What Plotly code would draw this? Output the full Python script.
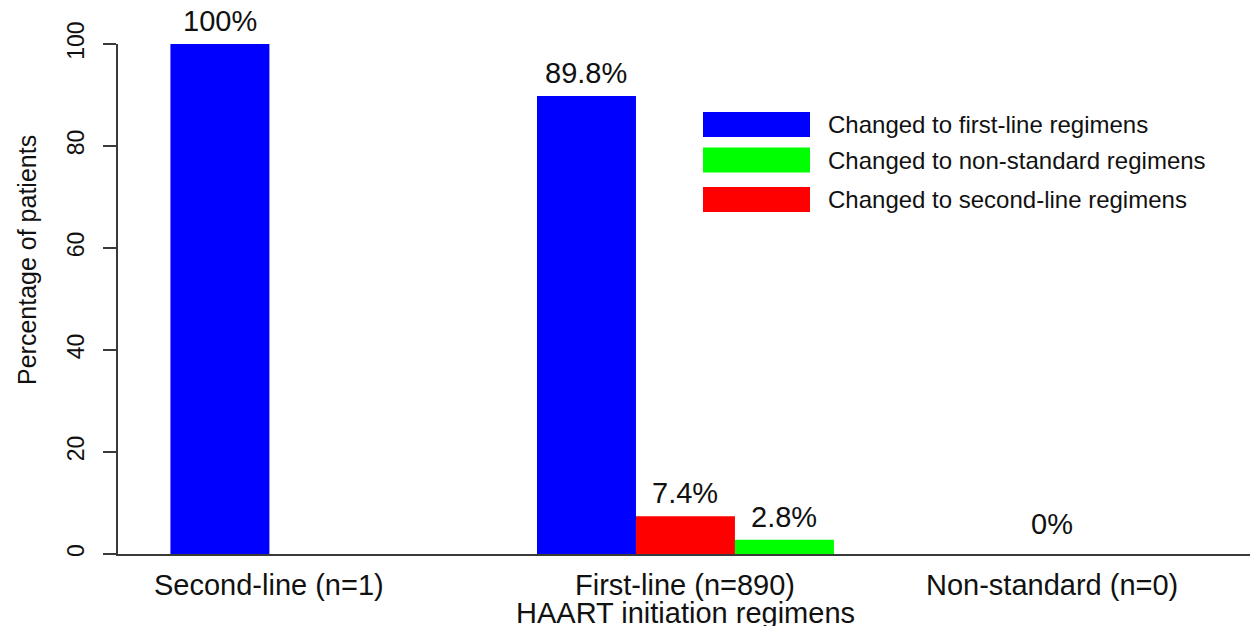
import plotly.graph_objects as go

# ---------------- data ----------------
categories = ["Second-line (n=1)", "First-line (n=890)", "Non-standard (n=0)"]
changed_first_line = [100, 89.8, 0]
changed_second_line = [0, 7.4, 0]
changed_non_standard = [0, 2.8, 0]
y_ticks = [0, 20, 40, 60, 80, 100]
x_title = "HAART initiation regimens"
y_title = "Percentage of patients"

series_names = ["Changed to first-line regimens",
                "Changed to second-line regimens",
                "Changed to non-standard regimens"]
legend_order = ["Changed to first-line regimens",
                "Changed to non-standard regimens",
                "Changed to second-line regimens"]

# ---------------- style ----------------
W, H = 1252, 626
L, R, T, B = 118, 1250, 44, 554          # plot area in px
FONT = "Arial, Liberation Sans, Helvetica, sans-serif"
AX = "#3a3a3a"
colors = {"Changed to first-line regimens": "#0000FF",
          "Changed to second-line regimens": "#FF0000",
          "Changed to non-standard regimens": "#00FF00"}
BARGAP = 0.19
BAR_W = (1 - BARGAP) / 3

series_vals = [changed_first_line, changed_second_line, changed_non_standard]

fig = go.Figure()
for name, vals in zip(series_names, series_vals):
    fig.add_trace(go.Bar(x=categories, y=vals, name=name,
                         marker=dict(color=colors[name], line=dict(width=0)),
                         showlegend=False))

annotations = []
# value labels above bars
for k, vals in enumerate(series_vals):
    for i, v in enumerate(vals):
        if v > 0:
            annotations.append(dict(x=i + (k - 1) * BAR_W, y=v, xref="x", yref="y",
                                    text=f"{v:g}%", showarrow=False,
                                    yanchor="bottom", yshift=5,
                                    font=dict(family=FONT, size=29, color="#111")))
# groups with no change at all
for i, c in enumerate(categories):
    total = sum(s[i] for s in series_vals)
    if total == 0:
        annotations.append(dict(x=i, y=0, xref="x", yref="y", text=f"{total:g}%",
                                showarrow=False, yanchor="bottom", yshift=12,
                                font=dict(family=FONT, size=29, color="#111")))
# category labels
label_offsets = [-0.5 * BAR_W, 0, 0]
for i, c in enumerate(categories):
    annotations.append(dict(x=i + label_offsets[i], y=0, xref="x", yref="paper",
                            text=c, showarrow=False, yanchor="top", yshift=-13,
                            font=dict(family=FONT, size=29, color="#111")))
# x axis title
annotations.append(dict(x=1, y=0, xref="x", yref="paper", text=x_title,
                        showarrow=False, yanchor="top", yshift=-41,
                        font=dict(family=FONT, size=29, color="#111")))
# y axis title (R-style, offset upward)
annotations.append(dict(x=0, y=(B - 260) / (B - T), xref="paper", yref="paper",
                        text=y_title, textangle=-90, showarrow=False,
                        xanchor="center", yanchor="middle", xshift=27 - L,
                        font=dict(family=FONT, size=25, color="#111")))

# manual legend with large keys
def px_x(p):
    return (p - L) / (R - L)

def px_y(p):
    return (B - p) / (B - T)

shapes = []
row_centers = [124.5, 160, 199.5]
for name, yc in zip(legend_order, row_centers):
    shapes.append(dict(type="rect", xref="paper", yref="paper",
                       x0=px_x(703), x1=px_x(810), y0=px_y(yc - 12.5), y1=px_y(yc + 12.5),
                       fillcolor=colors[name], line=dict(width=0)))
    annotations.append(dict(x=px_x(826), y=px_y(yc), xref="paper", yref="paper",
                            text=name, showarrow=False, xanchor="left", yanchor="middle",
                            font=dict(family=FONT, size=24, color="#111")))

fig.update_layout(
    width=W, height=H,
    margin=dict(l=L, r=W - R, t=T, b=H - B),
    paper_bgcolor="white", plot_bgcolor="white",
    barmode="group", bargap=BARGAP, bargroupgap=0,
    font=dict(family=FONT, color="#111"),
    annotations=annotations, shapes=shapes,
    showlegend=False,
    xaxis=dict(type="category", range=[-0.548, 2.54], showline=True, linecolor=AX,
               linewidth=2, ticks="", showticklabels=False, showgrid=False,
               zeroline=False),
    yaxis=dict(range=[0, 100], tickmode="array", tickvals=y_ticks,
               ticktext=[str(t) for t in y_ticks],
               showline=True, linecolor=AX, linewidth=2,
               ticks="outside", ticklen=13, tickwidth=2, tickcolor=AX,
               tickangle=-90, ticklabelstandoff=10,
               tickfont=dict(family=FONT, size=23, color="#111"),
               showgrid=False, zeroline=False),
)

fig.write_html("out.html", config={"displayModeBar": False},
               post_script="document.body.style.margin='0';document.body.style.overflow='hidden';")
